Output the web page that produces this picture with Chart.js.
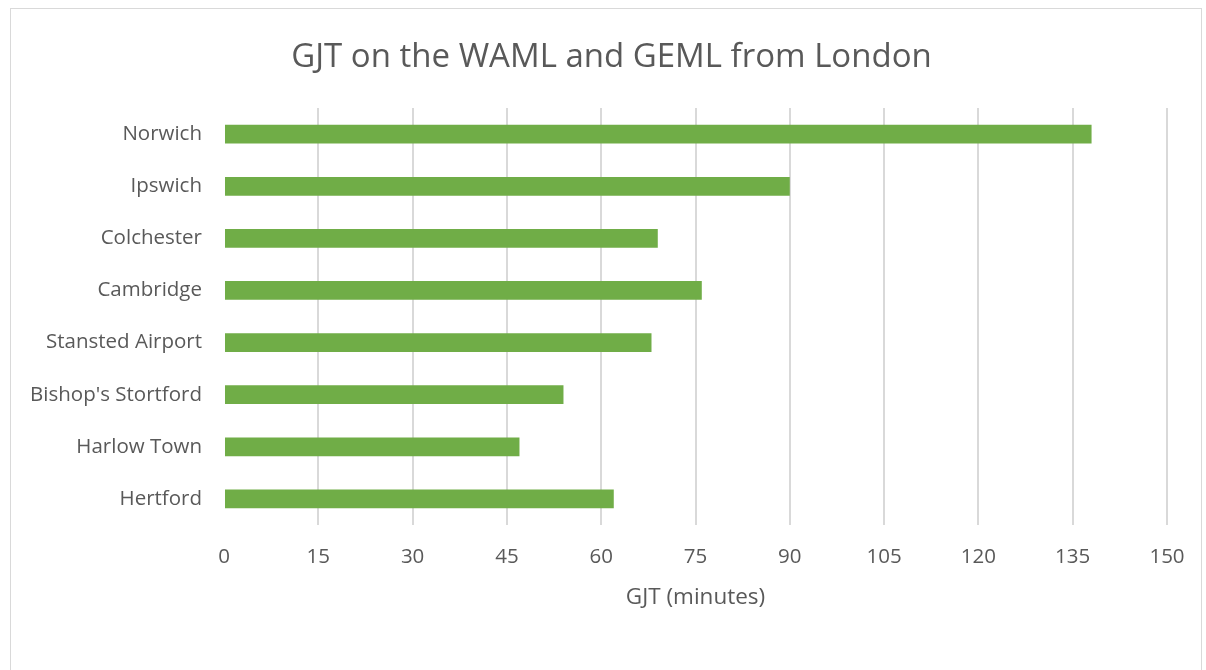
<!DOCTYPE html>
<html>
<head>
<meta charset="utf-8">
<script src="https://cdn.jsdelivr.net/npm/chart.js@4/dist/chart.umd.min.js"></script>
<style>
  html, body { margin: 0; padding: 0; background: #fff; }
  #wrap { position: relative; width: 1206px; height: 670px; }
  #frame { position: absolute; left: 10px; top: 8px; width: 1192px; height: 668px; border: 1px solid #d9d9d9; box-sizing: border-box; }
  canvas { position: absolute; left: 0; top: 0; }
</style>
</head>
<body>
<div id="wrap">
  <div id="frame"></div>
  <canvas id="chart" width="1206" height="670"></canvas>
</div>
<script>
"use strict";

const stations = ["Norwich", "Ipswich", "Colchester", "Cambridge", "Stansted Airport", "Bishop's Stortford", "Harlow Town", "Hertford"];
const gjtMinutes = [138, 90, 69, 76, 68, 54, 47, 62];
const chartTitle = "GJT on the WAML and GEML from London";
const xTitle = "GJT (minutes)";

const FONT = "'Open Sans', sans-serif";
const TEXT = "#595959";

// The original centres its title on the whole frame, not on the plot's padding box.
const centreTitle = {
  id: "centreTitle",
  afterLayout(chart) {
    if (chart.titleBlock) chart.titleBlock.left += 56;
  },
};

const ctx = document.getElementById("chart").getContext("2d");
new Chart(ctx, {
  type: "bar",
  data: {
    labels: stations,
    datasets: [{
      data: gjtMinutes,
      backgroundColor: "#70ad47",
      borderWidth: 0,
      categoryPercentage: 1,
      barPercentage: 0.36,
    }],
  },
  plugins: [centreTitle],
  options: {
    indexAxis: "y",
    responsive: false,
    animation: false,
    layout: { padding: { left: 0, right: 39, top: 0, bottom: 59 } },
    plugins: {
      legend: { display: false },
      tooltip: { enabled: false },
      title: {
        display: true,
        text: chartTitle,
        color: TEXT,
        font: { family: FONT, size: 33, weight: "normal" },
        padding: { top: 38, bottom: 30.5 },
      },
    },
    scales: {
      x: {
        min: 0,
        max: 150,
        ticks: { stepSize: 15, color: TEXT, font: { family: FONT, size: 20.5 }, padding: 20 },
        grid: {
          color: (c) => (c.tick && c.tick.value === 0 ? "rgba(0,0,0,0)" : "#d9d9d9"),
          lineWidth: 2,
          drawTicks: false,
        },
        border: { display: false },
        title: {
          display: true,
          text: xTitle,
          color: TEXT,
          font: { family: FONT, size: 22.5 },
          padding: { top: 10, bottom: 0 },
        },
        afterFit: (s) => { s.height = 86; },
      },
      y: {
        ticks: { color: TEXT, font: { family: FONT, size: 20.5 }, padding: 22 },
        grid: { display: false, drawTicks: false },
        border: { display: false },
        afterFit: (s) => { s.width = 224; },
      },
    },
  },
});
</script>
</body>
</html>
